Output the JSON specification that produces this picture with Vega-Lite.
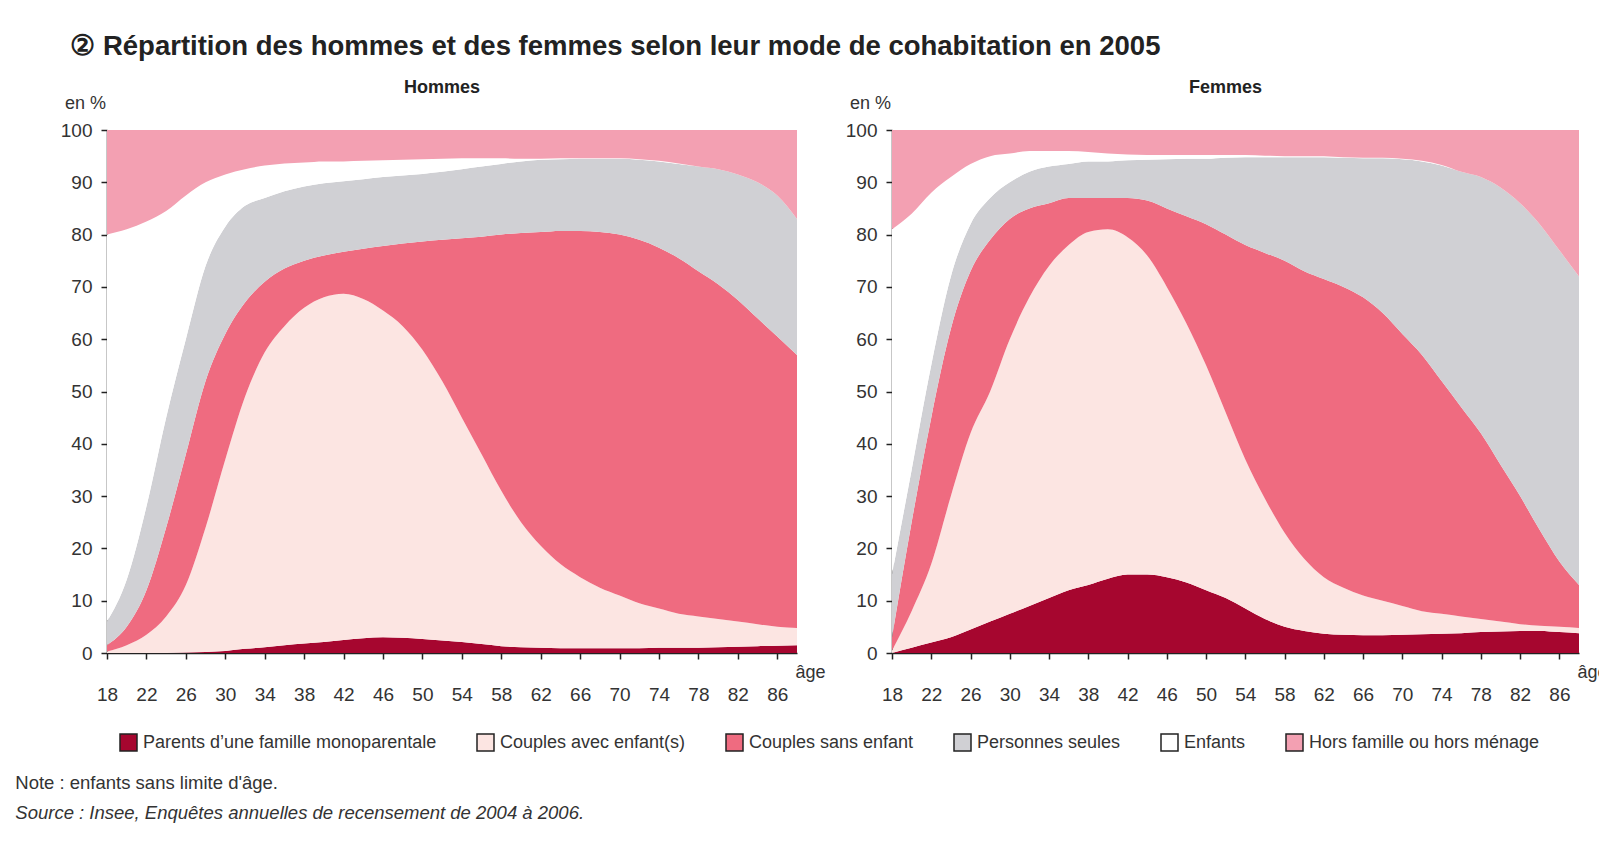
{
  "$schema": "https://vega.github.io/schema/vega-lite/v6.json",
  "background": "white",
  "padding": {"left": 15, "top": 32, "right": 20, "bottom": 30},
  "title": {"text": "② Répartition des hommes et des femmes selon leur mode de cohabitation en 2005", "anchor": "start", "frame": "bounds", "fontSize": 27.5, "font": "Liberation Sans", "fontWeight": "bold", "color": "#222", "dx": 55, "offset": 19},
  "data": {"values": [
    {"s":"H","age":18,"k1":0,"k2":0.3,"k3":1.2,"k4":4.5,"k5":74,"k6":20},
    {"s":"H","age":20,"k1":0,"k2":1.5,"k3":3.5,"k4":9,"k5":67,"k6":19},
    {"s":"H","age":22,"k1":0,"k2":3.5,"k3":8.5,"k4":16,"k5":54.5,"k6":17.5},
    {"s":"H","age":24,"k1":0,"k2":7,"k3":17,"k4":21,"k5":39.5,"k6":15.5},
    {"s":"H","age":26,"k1":0.1,"k2":12.9,"k3":25,"k4":22,"k5":27.5,"k6":12.5},
    {"s":"H","age":28,"k1":0.2,"k2":23.8,"k3":28,"k4":22,"k5":16,"k6":10},
    {"s":"H","age":30,"k1":0.4,"k2":36.6,"k3":24,"k4":20.5,"k5":10,"k6":8.5},
    {"s":"H","age":32,"k1":0.8,"k2":48.2,"k3":18,"k4":18.5,"k5":7,"k6":7.5},
    {"s":"H","age":34,"k1":1.1,"k2":56.4,"k3":13.5,"k4":16,"k5":6.2,"k6":6.8},
    {"s":"H","age":36,"k1":1.5,"k2":61,"k3":11,"k4":14.8,"k5":5.3,"k6":6.4},
    {"s":"H","age":38,"k1":1.8,"k2":64.2,"k3":9,"k4":14.2,"k5":4.6,"k6":6.2},
    {"s":"H","age":40,"k1":2.1,"k2":65.9,"k3":8,"k4":13.8,"k5":4.2,"k6":6},
    {"s":"H","age":42,"k1":2.5,"k2":66.2,"k3":8,"k4":13.5,"k5":3.8,"k6":6},
    {"s":"H","age":44,"k1":2.8,"k2":64.9,"k3":9.6,"k4":13.3,"k5":3.5,"k6":5.9},
    {"s":"H","age":46,"k1":3,"k2":62.5,"k3":12.3,"k4":13.2,"k5":3.2,"k6":5.8},
    {"s":"H","age":48,"k1":2.9,"k2":59.6,"k3":15.8,"k4":13,"k5":3,"k6":5.7},
    {"s":"H","age":50,"k1":2.7,"k2":55.3,"k3":20.7,"k4":12.9,"k5":2.8,"k6":5.6},
    {"s":"H","age":52,"k1":2.4,"k2":49.6,"k3":27,"k4":13,"k5":2.5,"k6":5.5},
    {"s":"H","age":54,"k1":2.1,"k2":42.9,"k3":34.3,"k4":13.2,"k5":2.1,"k6":5.4},
    {"s":"H","age":56,"k1":1.7,"k2":36.3,"k3":41.6,"k4":13.4,"k5":1.6,"k6":5.4},
    {"s":"H","age":58,"k1":1.3,"k2":29.7,"k3":49,"k4":13.5,"k5":1.1,"k6":5.4},
    {"s":"H","age":60,"k1":1.1,"k2":23.9,"k3":55.3,"k4":13.7,"k5":0.5,"k6":5.5},
    {"s":"H","age":62,"k1":1,"k2":19.5,"k3":60,"k4":13.8,"k5":0.2,"k6":5.5},
    {"s":"H","age":64,"k1":0.9,"k2":16.1,"k3":63.7,"k4":13.7,"k5":0.2,"k6":5.4},
    {"s":"H","age":66,"k1":0.9,"k2":13.6,"k3":66.2,"k4":13.8,"k5":0.1,"k6":5.4},
    {"s":"H","age":68,"k1":0.9,"k2":11.6,"k3":68,"k4":14,"k5":0.1,"k6":5.4},
    {"s":"H","age":70,"k1":0.9,"k2":10.1,"k3":69,"k4":14.5,"k5":0.1,"k6":5.4},
    {"s":"H","age":72,"k1":0.9,"k2":8.6,"k3":69.5,"k4":15.3,"k5":0.1,"k6":5.6},
    {"s":"H","age":74,"k1":1,"k2":7.5,"k3":69,"k4":16.5,"k5":0.1,"k6":5.9},
    {"s":"H","age":76,"k1":1,"k2":6.5,"k3":68,"k4":18,"k5":0.1,"k6":6.4},
    {"s":"H","age":78,"k1":1,"k2":6,"k3":66,"k4":20,"k5":0,"k6":7},
    {"s":"H","age":80,"k1":1.1,"k2":5.4,"k3":64,"k4":22,"k5":0,"k6":7.5},
    {"s":"H","age":82,"k1":1.2,"k2":4.8,"k3":61.5,"k4":24,"k5":0,"k6":8.5},
    {"s":"H","age":84,"k1":1.3,"k2":4.2,"k3":58.5,"k4":26,"k5":0,"k6":10},
    {"s":"H","age":86,"k1":1.4,"k2":3.6,"k3":55.5,"k4":27,"k5":0,"k6":12.5},
    {"s":"H","age":88,"k1":1.5,"k2":3.3,"k3":52.2,"k4":26,"k5":0,"k6":17},
    {"s":"F","age":18,"k1":0,"k2":0.5,"k3":2.5,"k4":12,"k5":66,"k6":19},
    {"s":"F","age":20,"k1":1,"k2":7,"k3":17,"k4":10,"k5":49,"k6":16},
    {"s":"F","age":22,"k1":2,"k2":15,"k3":28,"k4":10,"k5":33,"k6":12},
    {"s":"F","age":24,"k1":3,"k2":27,"k3":32,"k4":10,"k5":19,"k6":9},
    {"s":"F","age":26,"k1":4.5,"k2":37.5,"k3":31,"k4":9,"k5":11.5,"k6":6.5},
    {"s":"F","age":28,"k1":6,"k2":44,"k3":29,"k4":8,"k5":8,"k6":5},
    {"s":"F","age":30,"k1":7.5,"k2":52.5,"k3":23,"k4":7,"k5":5.5,"k6":4.5},
    {"s":"F","age":32,"k1":9,"k2":59,"k3":17,"k4":7,"k5":4,"k6":4},
    {"s":"F","age":34,"k1":10.5,"k2":63.5,"k3":12,"k4":7,"k5":3,"k6":4},
    {"s":"F","age":36,"k1":12,"k2":66,"k3":9,"k4":6.5,"k5":2.5,"k6":4},
    {"s":"F","age":38,"k1":13,"k2":67.5,"k3":6.5,"k4":7,"k5":1.8,"k6":4.2},
    {"s":"F","age":40,"k1":14.2,"k2":66.8,"k3":6,"k4":7,"k5":1.5,"k6":4.5},
    {"s":"F","age":42,"k1":15,"k2":64.5,"k3":7.5,"k4":7.2,"k5":1.1,"k6":4.7},
    {"s":"F","age":44,"k1":15,"k2":61,"k3":10.5,"k4":7.8,"k5":0.9,"k6":4.8},
    {"s":"F","age":46,"k1":14.5,"k2":55.5,"k3":15,"k4":9.4,"k5":0.8,"k6":4.8},
    {"s":"F","age":48,"k1":13.5,"k2":49.5,"k3":20.5,"k4":11,"k5":0.7,"k6":4.8},
    {"s":"F","age":50,"k1":12,"k2":43,"k3":27,"k4":12.5,"k5":0.7,"k6":4.8},
    {"s":"F","age":52,"k1":10.5,"k2":35.5,"k3":34,"k4":14.7,"k5":0.5,"k6":4.8},
    {"s":"F","age":54,"k1":8.5,"k2":28.5,"k3":41,"k4":16.8,"k5":0.4,"k6":4.8},
    {"s":"F","age":56,"k1":6.5,"k2":23,"k3":47,"k4":18.3,"k5":0.3,"k6":4.9},
    {"s":"F","age":58,"k1":5,"k2":18,"k3":52,"k4":19.8,"k5":0.2,"k6":5},
    {"s":"F","age":60,"k1":4.2,"k2":13.8,"k3":55,"k4":21.8,"k5":0.2,"k6":5},
    {"s":"F","age":62,"k1":3.7,"k2":10.8,"k3":57,"k4":23.3,"k5":0.2,"k6":5},
    {"s":"F","age":64,"k1":3.5,"k2":9,"k3":57.5,"k4":24.7,"k5":0.1,"k6":5.2},
    {"s":"F","age":66,"k1":3.4,"k2":7.6,"k3":57,"k4":26.6,"k5":0.1,"k6":5.3},
    {"s":"F","age":68,"k1":3.4,"k2":6.6,"k3":55,"k4":29.6,"k5":0.1,"k6":5.3},
    {"s":"F","age":70,"k1":3.5,"k2":5.5,"k3":52,"k4":33.4,"k5":0.1,"k6":5.5},
    {"s":"F","age":72,"k1":3.6,"k2":4.4,"k3":49,"k4":37,"k5":0.1,"k6":5.9},
    {"s":"F","age":74,"k1":3.7,"k2":3.8,"k3":44.5,"k4":41.2,"k5":0.1,"k6":6.7},
    {"s":"F","age":76,"k1":3.8,"k2":3.2,"k3":40,"k4":45,"k5":0,"k6":8},
    {"s":"F","age":78,"k1":4,"k2":2.5,"k3":35.5,"k4":49,"k5":0,"k6":9},
    {"s":"F","age":80,"k1":4.1,"k2":1.9,"k3":30,"k4":53,"k5":0,"k6":11},
    {"s":"F","age":82,"k1":4.2,"k2":1.3,"k3":24.5,"k4":56,"k5":0,"k6":14},
    {"s":"F","age":84,"k1":4.2,"k2":1,"k3":18.3,"k4":58.5,"k5":0,"k6":18},
    {"s":"F","age":86,"k1":4,"k2":1,"k3":12.5,"k4":59.5,"k5":0,"k6":23},
    {"s":"F","age":88,"k1":3.8,"k2":1,"k3":8.2,"k4":59,"k5":0,"k6":28}
  ]},
  "transform": [{"fold": ["k1", "k2", "k3", "k4", "k5", "k6"], "as": ["cat", "v"]}],
  "vconcat": [
    {
      "title": {"text": "Note : enfants sans limite d'âge.", "subtitle": "Source : Insee, Enquêtes annuelles de recensement de 2004 à 2006.", "orient": "bottom", "anchor": "start", "frame": "bounds", "fontSize": 18.5, "fontWeight": "normal", "subtitleFontSize": 18.5, "subtitleFontStyle": "italic", "subtitlePadding": 11, "color": "#333", "subtitleColor": "#333", "font": "Liberation Sans", "subtitleFont": "Liberation Sans", "offset": 70, "dx": -45},
      "bounds": "flush",
      "spacing": 95,
      "hconcat": [
        {
          "title": {"text": "Hommes"},
          "width": 690,
          "height": 523,
          "transform": [{"filter": "datum.s == 'H'"}],
          "mark": {"type": "area", "interpolate": "monotone"},
          "encoding": {
            "x": {"field": "age", "type": "quantitative", "scale": {"domain": [18, 88], "nice": false, "zero": false}, "axis": {"values": [18,22,26,30,34,38,42,46,50,54,58,62,66,70,74,78,82,86], "title": "âge", "titleX": 703, "titleY": 19, "titleAlign": "center", "titleBaseline": "middle", "tickSize": 6, "labelPadding": 26}},
            "y": {"field": "v", "type": "quantitative", "stack": "zero", "scale": {"domain": [0, 100], "nice": false}, "axis": {"values": [0,10,20,30,40,50,60,70,80,90,100], "title": "en %", "titleAngle": 0, "titleX": -22, "titleY": -27, "titleAlign": "center", "titleBaseline": "middle", "tickSize": 6, "labelPadding": 9}},
            "order": {"field": "cat", "type": "ordinal", "sort": "ascending"},
            "color": {"field": "cat", "type": "nominal", "scale": {"domain": ["k1", "k2", "k3", "k4", "k5", "k6"], "range": ["#A6062F", "#FCE5E2", "#EF6B80", "#D0D0D4", "#FFFFFF", "#F3A0B2"]}}
          }
        },
        {
          "title": {"text": "Femmes"},
          "width": 687,
          "height": 523,
          "transform": [{"filter": "datum.s == 'F'"}],
          "mark": {"type": "area", "interpolate": "monotone"},
          "encoding": {
            "x": {"field": "age", "type": "quantitative", "scale": {"domain": [18, 88], "nice": false, "zero": false}, "axis": {"values": [18,22,26,30,34,38,42,46,50,54,58,62,66,70,74,78,82,86], "title": "âge", "titleX": 700, "titleY": 19, "titleAlign": "center", "titleBaseline": "middle", "tickSize": 6, "labelPadding": 26}},
            "y": {"field": "v", "type": "quantitative", "stack": "zero", "scale": {"domain": [0, 100], "nice": false}, "axis": {"values": [0,10,20,30,40,50,60,70,80,90,100], "title": "en %", "titleAngle": 0, "titleX": -22, "titleY": -27, "titleAlign": "center", "titleBaseline": "middle", "tickSize": 6, "labelPadding": 9}},
            "order": {"field": "cat", "type": "ordinal", "sort": "ascending"},
            "color": {"field": "cat", "type": "nominal", "scale": {"domain": ["k1", "k2", "k3", "k4", "k5", "k6"], "range": ["#A6062F", "#FCE5E2", "#EF6B80", "#D0D0D4", "#FFFFFF", "#F3A0B2"]}, "legend": {"title": null, "orient": "none", "legendX": 12, "legendY": 603, "direction": "horizontal", "symbolType": "square", "symbolSize": 289, "symbolStrokeColor": "#222", "symbolStrokeWidth": 1.5, "symbolOpacity": 1, "labelFontSize": 18, "labelColor": "#333", "labelOffset": 5, "labelLimit": 400, "columnPadding": 37, "labelExpr": "datum.label == 'k1' ? 'Parents d\u2019une famille monoparentale' : datum.label == 'k2' ? 'Couples avec enfant(s)' : datum.label == 'k3' ? 'Couples sans enfant' : datum.label == 'k4' ? 'Personnes seules' : datum.label == 'k5' ? 'Enfants' : 'Hors famille ou hors ménage'"}}
          }
        }
      ]
    }
  ],
  "config": {
    "font": "Liberation Sans",
    "view": {"stroke": null},
    "title": {"fontSize": 18, "fontWeight": "bold", "color": "#222", "anchor": "middle", "dx": -10, "offset": -3},
    "axis": {"grid": false, "zindex": 1, "domainColor": "#222", "tickColor": "#222", "domainWidth": 1.5, "tickWidth": 1.5, "labelColor": "#333", "labelFontSize": 19, "labelFlush": false, "labelOverlap": false, "titleColor": "#333", "titleFontSize": 18, "titleFontWeight": "normal"},
    "legend": {"labelFont": "Liberation Sans"}
  }
}
